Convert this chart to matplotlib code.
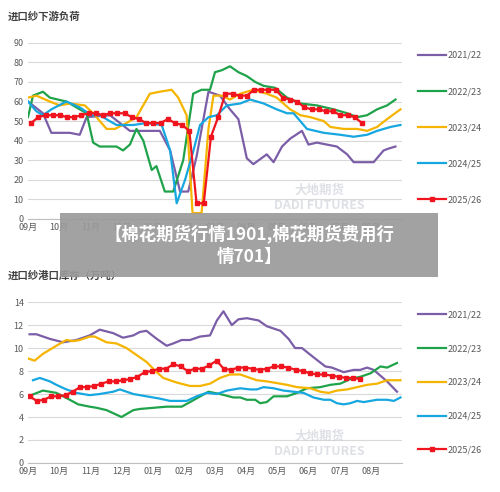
import matplotlib
matplotlib.use("Agg")
import matplotlib.pyplot as plt
import numpy as np
from matplotlib.patches import Rectangle

plt.rcParams['font.family'] = ['Noto Sans CJK SC', 'DejaVu Sans']

months = ['09月','10月','11月','12月','01月','02月','03月','04月','05月','06月','07月','08月']
seasons = ['2021/22','2022/23','2023/24','2024/25','2025/26']
colors = ['#7b5ea7','#1fa34a','#f5b400','#16a7e0','#f0141e']

# ---- top chart: 进口纱下游负荷 ----
t_p_x = [0,.48,.75,1.34,1.66,1.88,2.63,3.27,4.23,4.56,4.88,5.14,5.41,5.79,6.16,6.48,6.75,7.02,7.23,7.66,7.88,8.15,8.41,8.79,9.0,9.27,9.91,10.24,10.45,10.77,11.09,11.41,11.58,11.79]
t_p_y = [60,54,44,44,43,52,53,45,45,35,14,14,32,65,63,56,51,31,28,33,29,37,41,45,38,39,37,33,29,29,29,35,36,37]
t_g_x = [0,.16,.48,.70,.96,1.23,1.88,2.09,2.30,2.84,3.05,3.27,3.48,3.70,3.97,4.12,4.39,4.66,4.98,5.30,5.57,5.84,6.0,6.22,6.48,6.75,7.02,7.29,7.56,7.93,8.31,8.74,9.27,9.81,10.24,10.56,10.88,11.2,11.52,11.79]
t_g_y = [52,63,65,62,61,60,54,39,37,37,35,38,46,40,25,27,14,14,30,64,66,66,75,76,78,75,73,70,68,67,62,59,58,56,54,52,53,56,58,61]
t_o_x = [0,.27,.70,1.02,1.34,1.82,2.09,2.52,2.79,3.16,3.48,3.91,4.23,4.61,4.82,5.09,5.28,5.57,5.79,5.95,6.22,6.48,6.81,7.23,7.66,7.98,8.41,8.74,9.06,9.49,9.70,10.13,10.56,10.88,11.2,11.52,11.95]
t_o_y = [62,63,60,58,59,58,54,46,46,49,52,64,65,66,62,53,3,3,46,63,63,61,64,66,64,62,56,53,52,50,47,46,46,45,47,51,56]
t_b_x = [0,.27,.48,.75,1.23,1.66,2.04,2.30,2.84,3.38,3.80,4.29,4.56,4.77,5.04,5.31,5.52,5.79,6.06,6.38,6.81,7.13,7.56,7.98,8.31,8.52,8.95,9.49,10.02,10.45,10.88,11.2,11.63,11.95]
t_b_y = [60,55,53,56,60,57,53,53,48,48,49,48,35,8,20,35,48,52,53,58,59,61,59,56,54,54,46,44,43,42,43,45,47,48]
t_r_y = [49,52,53,53,53,52,52,53,54,54,53,54,54,54,52,51,49,49,49,51,49,48,45,8,8,42,52,64,64,63,
         63,66,66,66,66,62,61,60,57,56,56,55,55,53,53,52,49]

# ---- bottom chart: 进口纱港口库存（万吨） ----
b_p_x = [.05,.27,.70,1.13,1.55,1.98,2.30,2.73,3.05,3.38,3.59,3.80,4.13,4.45,4.66,4.93,5.2,5.52,5.84,6.06,6.27,6.54,6.75,7.02,7.40,7.66,8.10,8.36,8.57,8.79,9.16,9.54,9.75,10.13,10.45,10.66,10.88,11.09,11.52,11.84]
b_p_y = [11.2,11.2,10.8,10.5,10.7,11.1,11.6,11.3,10.9,11.1,11.4,11.5,10.8,10.2,10.4,10.7,10.7,11.0,11.1,12.4,13.2,12.0,12.5,12.6,12.4,11.9,11.5,10.8,10.0,10.0,9.2,8.4,8.3,7.9,8.1,8.1,8.3,8.1,7.1,6.2]
b_g_x = [0,.48,.91,1.34,1.61,1.98,2.2,2.52,3.0,3.38,3.59,4.02,4.45,4.93,5.2,5.79,6.16,6.59,6.81,7.02,7.29,7.45,7.66,7.88,8.31,8.63,8.95,9.38,9.70,10.02,10.34,10.66,10.99,11.31,11.52,11.84]
b_g_y = [5.8,6.3,6.1,5.5,5.1,4.9,4.8,4.6,4.0,4.6,4.7,4.8,4.9,4.9,5.3,6.2,6.0,5.7,5.7,5.5,5.5,5.2,5.3,5.8,5.8,6.1,6.5,6.6,6.8,6.9,7.3,7.5,7.8,8.4,8.3,8.7]
b_o_x = [0,.21,.48,.91,1.23,1.45,1.66,1.98,2.14,2.52,2.84,3.16,3.48,3.80,4.13,4.34,4.77,5.2,5.52,5.84,6.16,6.48,6.81,7.02,7.34,7.66,7.88,8.31,8.63,9.06,9.38,9.65,9.91,10.24,10.56,10.88,11.2,11.52,11.79,11.95]
b_o_y = [9.1,8.9,9.5,10.2,10.7,10.6,10.7,11.0,11.0,10.5,10.4,10.0,9.4,8.8,7.9,7.4,7.0,6.7,6.7,6.9,7.4,7.7,7.7,7.5,7.2,7.1,7.0,6.8,6.6,6.5,6.2,6.1,6.3,6.4,6.6,6.8,6.9,7.2,7.2,7.2]
b_b_x = [.16,.38,.70,.91,1.23,1.55,1.98,2.30,2.73,2.95,3.38,3.80,4.23,4.56,5.09,5.41,5.73,6.06,6.38,6.81,7.13,7.34,7.56,7.88,8.20,8.52,8.84,9.16,9.49,9.70,9.91,10.13,10.34,10.56,10.77,11.2,11.52,11.74,11.95]
b_b_y = [7.2,7.4,7.1,6.8,6.4,6.1,5.9,6.0,6.2,6.4,6.0,5.8,5.6,5.4,5.4,5.8,6.1,6.0,6.3,6.5,6.4,6.4,6.6,6.5,6.3,6.2,6.1,5.7,5.5,5.5,5.2,5.1,5.2,5.4,5.3,5.5,5.5,5.4,5.7]
b_r_y = [5.8,5.4,5.5,5.8,5.8,5.9,6.2,6.6,6.6,6.7,6.9,7.1,7.1,7.2,7.3,7.5,7.9,8.0,8.2,8.2,
         8.6,8.4,8.0,8.2,8.2,8.5,8.9,8.2,8.1,8.3,8.3,8.2,8.1,8.2,8.4,8.4,8.3,8.1,8.0,7.8,
         7.7,7.7,7.6,7.5,7.4,7.4,7.3]

fig = plt.figure(figsize=(5, 4.92), dpi=100)
tc = '#595959'

def setup(ax, ymax, step, title, ty, legsp):
    ax.set_xlim(0, 12)
    ax.set_ylim(0, ymax)
    ax.set_yticks(np.arange(0, ymax + 0.1, step))
    ax.set_xticks(range(12))
    ax.set_xticklabels(months)
    ax.tick_params(labelsize=6.5, colors=tc, length=0, pad=3)
    ax.grid(axis='y', color='#d9d9d9', lw=0.8)
    ax.set_axisbelow(True)
    for s in ['top', 'right', 'left']:
        ax.spines[s].set_visible(False)
    ax.spines['bottom'].set_color('#bfbfbf')
    fig.text(8/500, 1 - ty/492, title, fontsize=7.5, color='#404040', fontweight='bold', va='center')
    ax.text(0.78, 0.12, '大地期货\nDADI FUTURES', transform=ax.transAxes, fontsize=9,
            color='#c8ccd4', alpha=0.6, ha='center', va='center', fontweight='bold')
    ax.legend(loc='upper left', bbox_to_anchor=(1.02, 1.0), frameon=False, fontsize=6.5,
              labelspacing=legsp, handlelength=3.2, handletextpad=0.1, labelcolor=tc)

def draw(ax, series, red_x, red_y):
    for (x, y), c, lab in zip(series, colors[:4], seasons[:4]):
        ax.plot(x, y, color=c, lw=1.6, label=lab)
    ax.plot(red_x, red_y, color=colors[4], lw=1.6, marker='s', ms=3.2, label=seasons[4])

ax1 = fig.add_axes([0.056, 0.555, 0.748, 0.358])
rx1 = 0.1 + np.arange(len(t_r_y)) * 12 / 52
draw(ax1, [(t_p_x, t_p_y), (t_g_x, t_g_y), (t_o_x, t_o_y), (t_b_x, t_b_y)], rx1, t_r_y)
setup(ax1, 90, 10, '进口纱下游负荷', 16, 3.0)

ax2 = fig.add_axes([0.056, 0.059, 0.748, 0.327])
rx2 = 0.05 + np.arange(len(b_r_y)) * 12 / 52
draw(ax2, [(b_p_x, b_p_y), (b_g_x, b_g_y), (b_o_x, b_o_y), (b_b_x, b_b_y)], rx2, b_r_y)
setup(ax2, 14, 2, '进口纱港口库存（万吨）', 276, 2.75)

fig.patches.append(Rectangle((60/500, 1 - 277/492), 378/500, 64/492, transform=fig.transFigure,
                             facecolor='#9a9a9a', alpha=0.92, zorder=10))
fig.text(249/500, 1 - 245/492, '【棉花期货行情1901,棉花期货费用行\n情701】', ha='center', va='center',
         fontsize=12.5, color='white', fontweight='bold', linespacing=1.35, zorder=11)

fig.savefig('out.png', dpi=100)
